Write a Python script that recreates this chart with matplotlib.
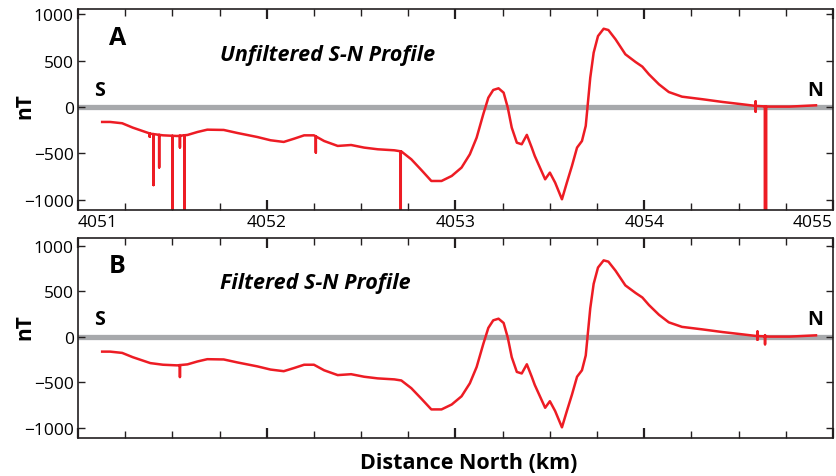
import numpy as np
import matplotlib.pyplot as plt
from matplotlib.ticker import MultipleLocator

plt.rcParams['font.family'] = ['Open Sans', 'DejaVu Sans']

# profile (km north, nT)
dist = [4051.128, 4051.17, 4051.234, 4051.29, 4051.383, 4051.45, 4051.525, 4051.58,
        4051.633, 4051.685, 4051.772, 4051.845, 4051.95, 4052.02, 4052.09, 4052.145,
        4052.198, 4052.25, 4052.304, 4052.376, 4052.447, 4052.516, 4052.588, 4052.676,
        4052.713, 4052.766, 4052.82, 4052.872, 4052.926, 4052.98, 4053.032, 4053.076,
        4053.112, 4053.147, 4053.174, 4053.20, 4053.228, 4053.255, 4053.277, 4053.298,
        4053.325, 4053.351, 4053.378, 4053.404, 4053.42, 4053.475, 4053.50, 4053.528,
        4053.564, 4053.59, 4053.617, 4053.644, 4053.67, 4053.69, 4053.70, 4053.714,
        4053.732, 4053.755, 4053.785, 4053.81, 4053.848, 4053.90, 4053.954, 4053.99,
        4054.025, 4054.078, 4054.13, 4054.20, 4054.31, 4054.415, 4054.52, 4054.592,
        4054.663, 4054.77, 4054.91]
field = [-161, -161, -175, -222, -287, -305, -312, -301,
         -269, -244, -247, -280, -323, -358, -376, -341,
         -305, -305, -366, -419, -409, -437, -455, -466,
         -478, -563, -680, -796, -796, -742, -652, -509,
         -330, -79, 100, 183, 201, 154, -7, -222,
         -384, -401, -300, -437, -527, -778, -706, -814,
         -993, -814, -634, -437, -366, -204, 11, 315,
         584, 763, 842, 828, 728, 567, 484, 434,
         351, 244, 161, 111, 83, 54, 29, 11,
         4, 4, 18]

# spikes (position, tip value)
spikes_a = [(4051.38, -320), (4051.40, -840), (4051.43, -650), (4051.50, -1110),
            (4051.54, -435), (4051.565, -1110), (4052.26, -490), (4052.71, -1110),
            (4054.59, 60), (4054.59, -50), (4054.64, -1110), (4054.645, -1110)]
spikes_b = [(4051.54, -440), (4054.60, 60), (4054.60, -30),
            (4054.64, 20), (4054.64, -80)]


def with_spikes(xs, ys, spikes):
    pts = list(zip(xs, ys))
    for sx, sy in spikes:
        base = np.interp(sx, xs, ys)
        pts += [(sx, base), (sx, sy), (sx, base)]
    pts.sort(key=lambda p: p[0])
    return [p[0] for p in pts], [p[1] for p in pts]


fig = plt.figure(figsize=(8.37, 4.77), dpi=100)
ax1 = fig.add_axes([0.0932, 0.5577, 0.902, 0.4213])
ax2 = fig.add_axes([0.0932, 0.0797, 0.902, 0.4193])

red = '#ed1c24'
grey = '#a7a9ac'

panels = [(ax1, spikes_a, 'A', 'Unfiltered S-N Profile', (-1108, 1054), 0.778),
          (ax2, spikes_b, 'B', 'Filtered S-N Profile', (-1110, 1088), 0.314)]

for ax, spikes, letter, title, ylim, ylab_y in panels:
    ax.axhline(0, color=grey, lw=3.8, zorder=1)
    sx, sy = with_spikes(dist, field, spikes)
    ax.plot(sx, sy, color=red, lw=1.8, zorder=2, solid_joinstyle='round')
    ax.set_xlim(4051, 4055)
    ax.set_ylim(*ylim)
    ax.set_yticks([-1000, -500, 0, 500, 1000])
    ax.set_xticks([4051, 4052, 4053, 4054, 4055])
    ax.xaxis.set_minor_locator(MultipleLocator(0.25))
    ax.tick_params(axis='both', which='both', direction='in', top=True, right=True,
                   labelsize=12.5, color='#231f20', pad=3)
    ax.tick_params(axis='x', which='major', length=7, width=1.6)
    ax.tick_params(axis='x', which='minor', length=5, width=1.0)
    ax.tick_params(axis='y', length=5, width=1.0)
    for s in ax.spines.values():
        s.set_linewidth(1.2)
        s.set_color('#231f20')
    fig.text(0.03, ylab_y, 'nT', fontsize=15, fontweight='bold', rotation=90,
             ha='center', va='center')
    ax.text(0.052, 0.86, letter, transform=ax.transAxes, fontsize=18,
            fontweight='bold', ha='center', va='center')
    ax.text(0.188, 0.775, title, transform=ax.transAxes, fontsize=15.5,
            fontweight='bold', style='italic', ha='left', va='center')
    ax.text(0.029, 0.595, 'S', transform=ax.transAxes, fontsize=14,
            fontweight='bold', ha='center', va='center')
    ax.text(0.976, 0.595, 'N', transform=ax.transAxes, fontsize=14,
            fontweight='bold', ha='center', va='center')

labels = ax1.set_xticklabels(['4051', '4052', '4053', '4054', '4055'])
labels[0].set_ha('left')
labels[-1].set_ha('right')
ax2.set_xticklabels([])
fig.text(0.560, 0.029, 'Distance North (km)', fontsize=15.5, fontweight='bold',
         ha='center', va='center')

fig.savefig('out.png', dpi=100)
